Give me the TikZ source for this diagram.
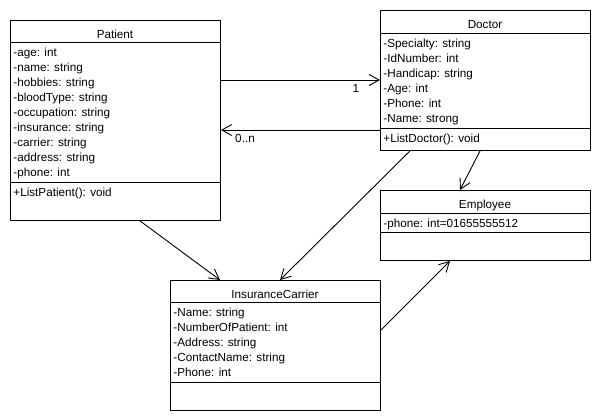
\documentclass[tikz,border=0pt]{standalone}
\usepackage{fontspec}
\setmainfont{Liberation Sans}
\usetikzlibrary{
    arrows.meta,
    calc,
    positioning
}

\begin{document}
\begin{tikzpicture}[x=1pt, y=-1pt, line width=0.9pt,
    font=\fontsize{11.7}{14}\selectfont,
    classbox/.style={draw, inner sep=0pt, anchor=north west},
    title/.style={anchor=base, inner sep=0pt},
    member/.style={anchor=base west, inner sep=0pt},
    assoc/.style={-{Straight Barb[length=10pt, width=11pt]}}]
    \useasboundingbox (0,0) rectangle (600,420);

    \node[classbox, minimum width=210pt, minimum height=200pt] (patient) at (10, 20) {};
    \node[title] (patienttitle) at (115, 38.3) {Patient};
    \draw (10, 42) -- (220, 42) (10, 182) -- (220, 182);
    \foreach \m [count=\i from 0] in {-age: int, -name: string, -hobbies: string, -bloodType: string, -occupation: string, -insurance: string, -carrier: string, -address: string, -phone: int}
        \node[member] (patient\i) at (13, 56.5+15*\i) {\m};
    \node[member] (patientop) at (13, 196) {+ListPatient(): void};

    \node[classbox, minimum width=210pt, minimum height=140pt] (doctor) at (380, 10) {};
    \node[title] (doctortitle) at (485, 28.3) {Doctor};
    \draw (380, 33) -- (590, 33) (380, 128) -- (590, 128);
    \foreach \m [count=\i from 0] in {-Specialty: string, -IdNumber: int, -Handicap: string, -Age: int, -Phone: int, -Name: strong}
        \node[member] (doctor\i) at (383, 47.5+15*\i) {\m};
    \node[member] (doctorop) at (383, 142) {+ListDoctor(): void};

    \node[classbox, minimum width=210pt, minimum height=70pt] (employee) at (380, 190) {};
    \node[title] (employeetitle) at (485, 208.3) {Employee};
    \draw (380, 213) -- (590, 213) (380, 232) -- (590, 232);
    \node[member] (employee0) at (383, 227) {-phone: int=01655555512};

    \node[classbox, minimum width=210pt, minimum height=130pt] (insurance) at (170, 280) {};
    \node[title] (insurancetitle) at (275, 298.3) {InsuranceCarrier};
    \draw (170, 302) -- (380, 302) (170, 382) -- (380, 382);
    \foreach \m [count=\i from 0] in {-Name: string, -NumberOfPatient: int, -Address: string, -ContactName: string, -Phone: int}
        \node[member] (insurance\i) at (173, 316.5+15*\i) {\m};

    \draw[assoc] (patient.east |- 0, 80) -- (doctor.west |- 0, 80);
    \node (multone) at (356, 88) {1};
    \draw[assoc] (doctor.west |- 0, 130) -- (patient.east |- 0, 130);
    \node (multmany) at (245, 138.5) {0..n};
    \draw[assoc] (patient.south -| 140, 0) -- (insurance.north -| 220, 0);
    \draw[assoc] (doctor.south -| 410, 0) -- (insurance.north -| 280, 0);
    \draw[assoc] (doctor.south -| 480, 0) -- (employee.north -| 460, 0);
    \draw[assoc] (insurance.east |- 0, 330) -- (employee.south -| 450, 0);
\end{tikzpicture}
\end{document}
